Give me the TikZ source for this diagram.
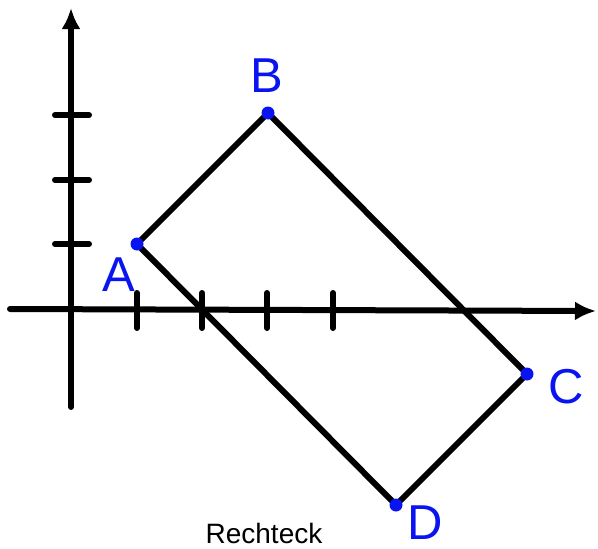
\documentclass[tikz,border=0pt]{standalone}
\usepackage{fontspec}
\setmainfont{Liberation Sans}
\usetikzlibrary{arrows.meta}
\definecolor{ptblue}{RGB}{10,20,240}
\tikzset{
  axis/.style={line width=6pt, line cap=round, -{Latex[length=21pt,width=19pt]}},
  tick/.style={line width=6pt, line cap=round},
  side/.style={line width=6pt, line cap=round, line join=round},
  pt/.style={circle, fill=ptblue, inner sep=0pt, minimum size=13pt},
  lbl/.style={text=ptblue, font=\fontsize{49}{49}\selectfont, inner sep=0pt},
}
\begin{document}
\begin{tikzpicture}[x=1pt,y=-1pt]
\useasboundingbox (0,0) rectangle (598,549);
% axes
\coordinate (xs) at (10,309);
\coordinate (xe) at (596,311);
\coordinate (ys) at (71,407);
\coordinate (ye) at (71,8);
\draw[axis] (xs) -- (xe);
\draw[axis] (ys) -- (ye);
% ticks
\foreach \x/\n in {137/1,202/2,267/3,333/4} {
  \coordinate (xt\n a) at (\x,293);
  \coordinate (xt\n b) at (\x,328);
  \draw[tick] (xt\n a) -- (xt\n b);
}
\foreach \y/\n in {244/1,180/2,115/3} {
  \coordinate (yt\n a) at (55,\y);
  \coordinate (yt\n b) at (89,\y);
  \draw[tick] (yt\n a) -- (yt\n b);
}
% rectangle
\coordinate (A) at (137,244);
\coordinate (B) at (268,113);
\coordinate (C) at (527,374);
\coordinate (D) at (396,505);
\draw[side] (A) -- (B) -- (C) -- (D) -- cycle;
\node[pt] (pA) at (A) {};
\node[pt] (pB) at (B) {};
\node[pt] (pC) at (C) {};
\node[pt] (pD) at (D) {};
% labels
\node[lbl] (lA) at (119,275) {A};
\node[lbl] (lB) at (267,76) {B};
\node[lbl] (lC) at (566,387) {C};
\node[lbl] (lD) at (425,523) {D};
\node[font=\fontsize{28}{28}\selectfont, inner sep=0pt] (title) at (264,533) {Rechteck};
\end{tikzpicture}
\end{document}
